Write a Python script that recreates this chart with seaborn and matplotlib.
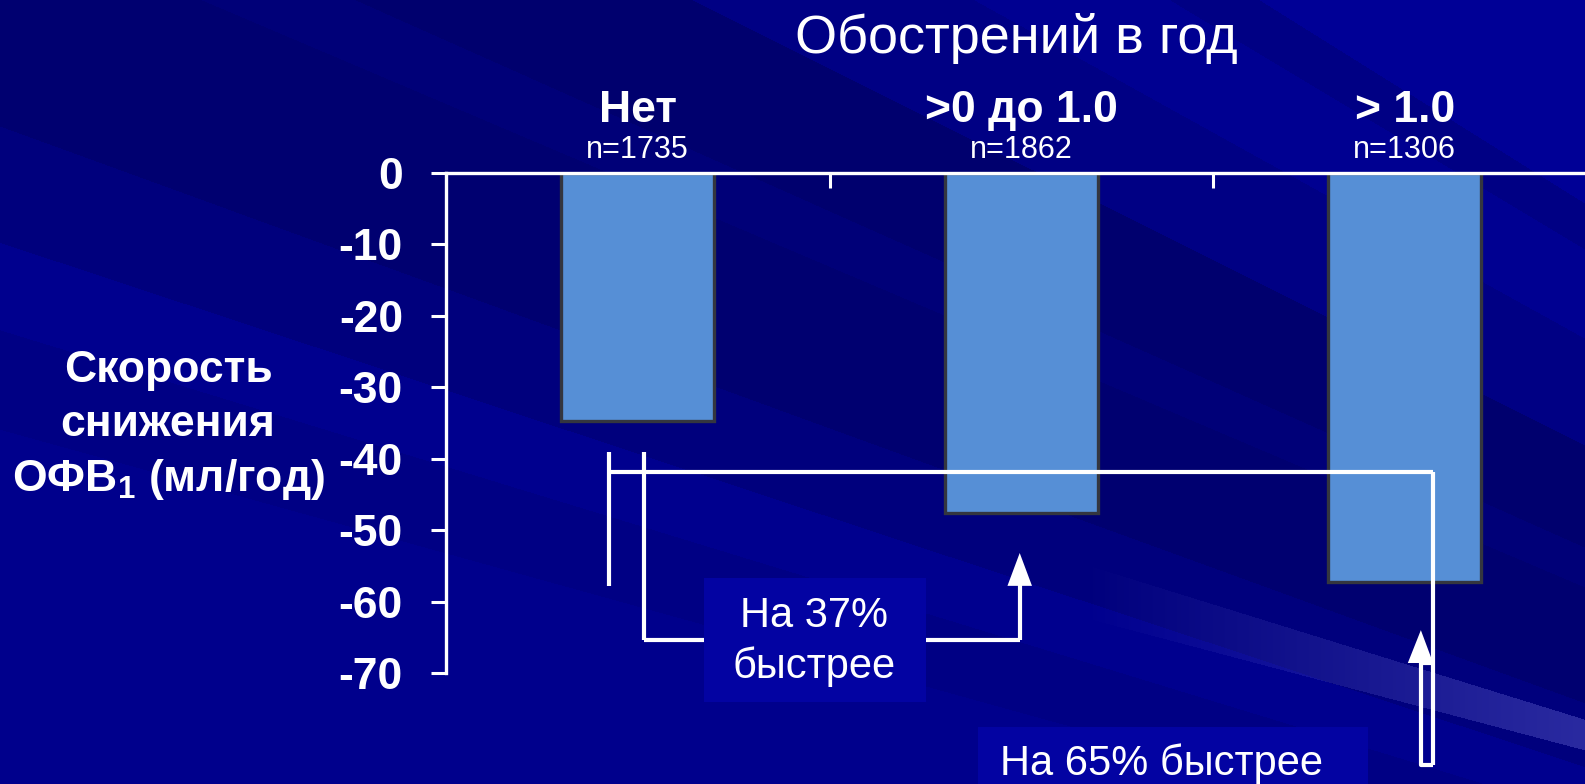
import numpy as np
import matplotlib
matplotlib.use("Agg")
import matplotlib.pyplot as plt
from matplotlib.patches import Polygon, Rectangle
from matplotlib.transforms import blended_transform_factory
import seaborn as sns

# ---- data ----
categories = ["Нет", ">0 до 1.0", "> 1.0"]
n_labels = ["n=1735", "n=1862", "n=1306"]
fev1_decline = [-34.7, -47.6, -57.3]          # мл/год
y_ticks = [0, -10, -20, -30, -40, -50, -60, -70]
title = "Обострений в год"
ylabel_lines = ["Скорость", "снижения", r"ОФВ$_{\mathbf{1}}$ (мл/год)"]
note_37 = ["На 37%", "быстрее"]
note_65 = "На 65% быстрее"

sns.set_theme(style="ticks")
plt.rcParams["font.family"] = ["Liberation Sans", "DejaVu Sans"]
plt.rcParams["mathtext.fontset"] = "custom"
plt.rcParams["mathtext.rm"] = "Liberation Sans"
plt.rcParams["mathtext.bf"] = "Liberation Sans:bold"

W, H = 1585, 784
fig = plt.figure(figsize=(W / 100, H / 100), dpi=100)

# ---- slide background: dark blue with diagonal ribbons ----
yy, xx = np.mgrid[0:H, 0:W].astype(float)
theta = np.degrees(np.arctan2(1400 - yy, 3500 - xx))
edges = [0, 15.5, 17, 18.3, 20, 23, 24, 26.5, 29, 31, 32, 90]
shades = [140, 132, 142, 125, 112, 120, 110, 132, 145, 132, 150]
blue = np.full((H, W), 138.0)
for lo, hi, s in zip(edges[:-1], edges[1:], shades):
    blue[(theta >= lo) & (theta < hi)] = s
img = np.zeros((H, W, 3))
img[..., 2] = blue / 255.0
# soft light streak at the lower right
upper = 600 + 0.31 * (xx - 1200)
lower = 648 + 0.265 * (xx - 1200)
streak = (yy > upper) & (yy < lower)
alpha = np.clip((xx - 1080) / 505, 0, 1) * 0.3
light = np.array([0.55, 0.55, 0.95])
for c in range(3):
    img[..., c] = np.where(streak, img[..., c] * (1 - alpha) + light[c] * alpha, img[..., c])

bg = fig.add_axes([0, 0, 1, 1], zorder=-10)
bg.imshow(img, aspect="auto", extent=(0, W, H, 0), interpolation="bilinear")
bg.set_xlim(0, W)
bg.set_ylim(H, 0)
bg.axis("off")

# ---- main axes ----
left_px, right_px = 446, 1596.5
top_px, bot_px = 173, 673
ax = fig.add_axes([left_px / W, 1 - bot_px / H, (right_px - left_px) / W, (bot_px - top_px) / H])
ax.set_facecolor("none")

sns.barplot(x=categories, y=fev1_decline, ax=ax, width=0.4, color="#568FD6",
            saturation=1, edgecolor="#34363F", linewidth=2.4, zorder=3)

ax.set_xlim(-0.5, 2.5)
ax.set_ylim(-70, 0)
ax.set_xlabel("")
ax.set_ylabel("")

for side in ["bottom", "right"]:
    ax.spines[side].set_visible(False)
for side in ["top", "left"]:
    ax.spines[side].set_color("white")
    ax.spines[side].set_linewidth(2.4)
    ax.spines[side].set_zorder(5)

ax.set_yticks(y_ticks)
ax.set_yticklabels([str(v) for v in y_ticks], fontsize=32, fontweight="bold", color="white")
ax.tick_params(axis="y", length=11, width=2.2, pad=20, colors="white", direction="out")

ax.xaxis.tick_top()
ax.set_xticks([0.5, 1.5])
ax.set_xticklabels(["", ""])
ax.tick_params(axis="x", length=11, width=2.2, colors="white", direction="in")

# ---- header texts ----
fig.text(1016 / W, 1 - 53 / H, title, ha="center", va="baseline", fontsize=39, color="white")
tr = blended_transform_factory(ax.transData, fig.transFigure)
for i, (cat, n) in enumerate(zip(categories, n_labels)):
    ax.text(i, 1 - 122 / H, cat, transform=tr, ha="center", va="baseline",
            fontsize=32, fontweight="bold", color="white")
    ax.text(i, 1 - 158 / H, n, transform=tr, ha="center", va="baseline",
            fontsize=22, color="white")

# ---- y label ----
for line, base in zip(ylabel_lines, [382, 436, 491]):
    fig.text(168 / W, 1 - base / H, line, ha="center", va="baseline",
             fontsize=32, fontweight="bold", color="white")

# ---- comparison brackets and arrows ----
lw = 3.0
kw = dict(color="white", lw=lw, clip_on=False, zorder=6, solid_capstyle="butt")
ax.plot([-0.076, -0.076], [-39.0, -57.8], **kw)
ax.plot([0.016, 0.016], [-39.0, -65.4], **kw)
ax.plot([-0.076, 2.073], [-41.9, -41.9], **kw)
ax.plot([2.073, 2.073], [-41.9, -82.9], **kw)
# arrow to the second bar
ax.plot([0.016, 0.996], [-65.4, -65.4], **kw)
ax.plot([0.996, 0.996], [-65.4, -57.5], **kw)
ax.add_patch(Polygon([[0.964, -57.8], [1.028, -57.8], [0.996, -53.2]], closed=True,
                     facecolor="white", edgecolor="none", clip_on=False, zorder=6))
# hollow arrow to the third bar
ax.plot([2.042, 2.042, 2.073], [-68.6, -82.9, -82.9], **kw)
ax.plot([2.042, 2.073], [-68.6, -68.6], **kw)
ax.add_patch(Polygon([[2.008, -68.6], [2.074, -68.6], [2.042, -64.0]], closed=True,
                     facecolor="white", edgecolor="none", clip_on=False, zorder=6))

# ---- note boxes ----
box_color = "#0303A2"
ax.add_patch(Rectangle((0.172, -74.1), 0.579, 17.4, facecolor=box_color, edgecolor="none",
                       clip_on=False, zorder=7))
for line, base in zip(note_37, [627, 678]):
    fig.text(814 / W, 1 - base / H, line, ha="center", va="baseline", fontsize=30,
             color="white", zorder=8)

fig.patches.append(Rectangle((978 / W, 0), (1368 - 978) / W, (H - 727) / H,
                             transform=fig.transFigure, facecolor=box_color,
                             edgecolor="none", zorder=1))
fig.text(1162 / W, 1 - 775 / H, note_65, ha="center", va="baseline", fontsize=30,
         color="white", zorder=8)

fig.savefig("out.png", dpi=100)
